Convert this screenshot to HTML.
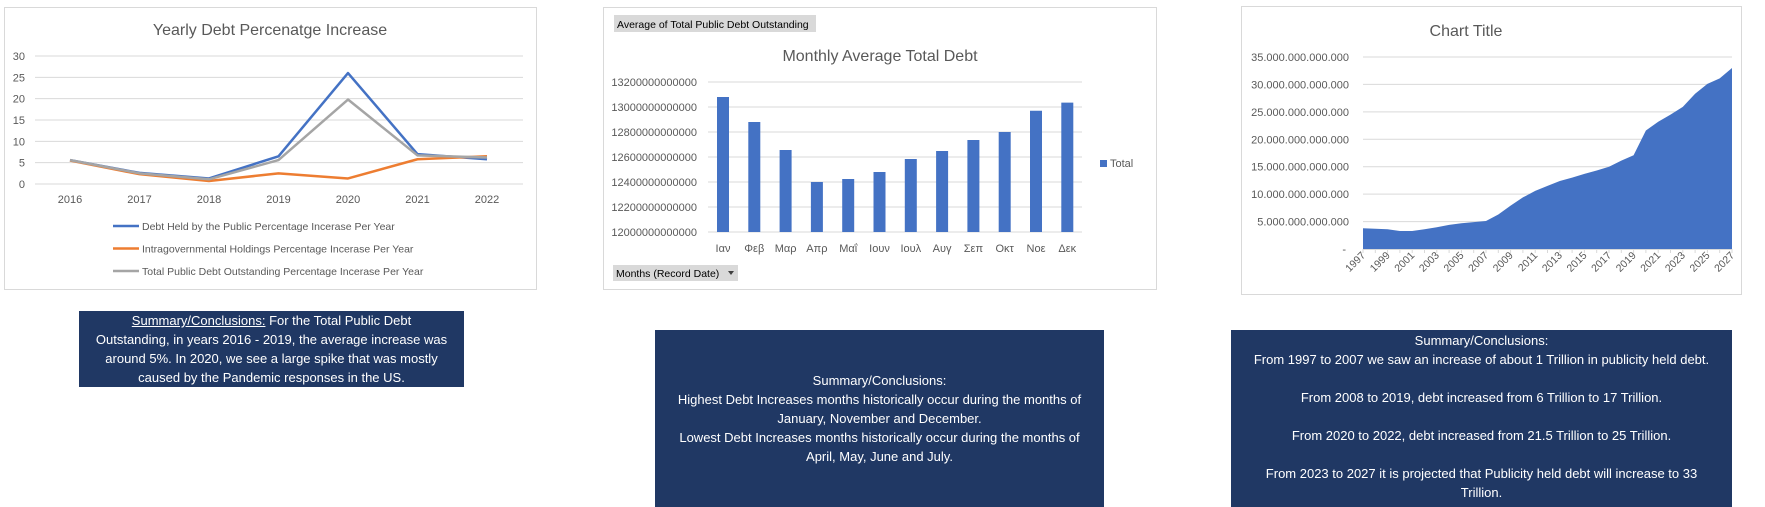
<!DOCTYPE html>
<html><head><meta charset="utf-8"><style>
body{margin:0;background:#fff;width:1765px;height:507px;overflow:hidden;font-family:"Liberation Sans","DejaVu Sans",sans-serif}
.box{position:absolute;background:#203864;color:#fff;text-align:center;font-size:13px;line-height:19px;display:flex;flex-direction:column;justify-content:center}
svg{position:absolute;left:0;top:0}
</style></head><body>
<svg id="s" width="1765" height="507">
<rect x="4.5" y="7.5" width="532" height="282" fill="#fff" stroke="#d9d9d9"/>
<rect x="603.5" y="7.5" width="553" height="282" fill="#fff" stroke="#d9d9d9"/>
<rect x="1241.5" y="6.5" width="500" height="288" fill="#fff" stroke="#d9d9d9"/>
<text x="270" y="35" text-anchor="middle" font-size="16" fill="#595959">Yearly Debt Percenatge Increase</text>
<text x="880" y="61" text-anchor="middle" font-size="16" fill="#595959">Monthly Average Total Debt</text>
<text x="1466" y="36" text-anchor="middle" font-size="16" fill="#595959">Chart Title</text>
<rect x="614" y="15" width="202" height="17" fill="#d9d9d9"/>
<text x="617" y="28" font-size="10.5" fill="#000">Average of Total Public Debt Outstanding</text>
<rect x="613" y="265" width="125" height="16" fill="#d9d9d9"/>
<text x="616" y="277" font-size="10.5" fill="#000">Months (Record Date)</text>
<path d="M728 271l6 0-3 4z" fill="#404040"/>
<rect x="1100" y="160" width="7" height="7" fill="#4472c4"/>
<text x="1110" y="167" font-size="11" fill="#595959">Total</text>
<g id="g1"></g><g id="g2"></g><g id="g3"></g>
</svg>
<div class="box" style="left:79px;top:311px;width:385px;height:76px"><div><u>Summary/Conclusions:</u> For the Total Public Debt<br>Outstanding, in years 2016 - 2019, the average increase was<br>around 5%. In 2020, we see a large spike that was mostly<br>caused by the Pandemic responses in the US.</div></div>
<div class="box" style="left:655px;top:330px;width:449px;height:177px"><div>Summary/Conclusions:<br>Highest Debt Increases months historically occur during the months of<br>January, November and December.<br>Lowest Debt Increases months historically occur during the months of<br>April, May, June and July.</div></div>
<div class="box" style="left:1231px;top:330px;width:501px;height:177px;justify-content:flex-start"><div style="margin-top:1px">Summary/Conclusions:<br>From 1997 to 2007 we saw an increase of about 1 Trillion in publicity held debt.<br><br>From 2008 to 2019, debt increased from 6 Trillion to 17 Trillion.<br><br>From 2020 to 2022, debt increased from 21.5 Trillion to 25 Trillion.<br><br>From 2023 to 2027 it is projected that Publicity held debt will increase to 33<br>Trillion.</div></div>
<script>
const years1=['2016','2017','2018','2019','2020','2021','2022'];
const debtPublic=[5.6,2.6,1.3,6.5,26,7,5.8];
const intragov=[5.5,2.3,0.7,2.5,1.3,5.8,6.5];
const totalPublic=[5.6,2.5,1.1,5.6,19.8,6.7,6.2];
const ticks1=[0,5,10,15,20,25,30];
const months=['Ιαν','Φεβ','Μαρ','Απρ','Μαΐ','Ιουν','Ιουλ','Αυγ','Σεπ','Οκτ','Νοε','Δεκ'];
const monthAvg=[13.08e12,12.88e12,12.656e12,12.40e12,12.424e12,12.48e12,12.584e12,12.648e12,12.736e12,12.80e12,12.97e12,13.035e12];
const ticks2=[12.0e12,12.2e12,12.4e12,12.6e12,12.8e12,13.0e12,13.2e12];
const years3=[];for(let y=1997;y<=2027;y++)years3.push(String(y));
const heldDebt=[3.78,3.7,3.6,3.28,3.28,3.6,3.97,4.4,4.7,4.9,5.1,6.3,7.9,9.4,10.6,11.5,12.4,13.0,13.7,14.3,15.0,16.1,17.1,21.6,23.2,24.5,25.9,28.3,30.1,31.1,33.0].map(v=>v*1e12);
const ticks3=[0,5e12,10e12,15e12,20e12,25e12,30e12,35e12];
const NS='http://www.w3.org/2000/svg';
function mk(p,t,a){const e=document.createElementNS(NS,t);for(const k in a)e.setAttribute(k,a[k]);p.appendChild(e);return e;}
// chart 1
const g1=document.getElementById('g1');
const x1=i=>70+i*69.5, y1=v=>184-v/30*128;
ticks1.forEach(t=>{const l=mk(g1,'line',{x1:35,x2:523,y1:y1(t),y2:y1(t),stroke:'#d9d9d9'});

const tx=mk(g1,'text',{x:25,y:y1(t)+4,'text-anchor':'end','font-size':11,fill:'#595959'});tx.textContent=t;
});
years1.forEach((y,i)=>{const tx=mk(g1,'text',{x:x1(i),y:203,'text-anchor':'middle','font-size':11,fill:'#595959'});tx.textContent=y;
});
const ser=[[totalPublic,'#a5a5a5','series-total-public'],[intragov,'#ed7d31','series-intragov'],[debtPublic,'#4472c4','series-debt-public']];
[[debtPublic,'#4472c4','series-debt-public'],[intragov,'#ed7d31','series-intragov'],[totalPublic,'#a5a5a5','series-total-public']].forEach(s=>{
const p=mk(g1,'polyline',{points:s[0].map((v,i)=>x1(i)+','+y1(v)).join(' '),fill:'none',stroke:s[1],'stroke-width':2.5,'stroke-linejoin':'round'});
});
const leg=['Debt Held by the Public Percentage Incerase Per Year','Intragovernmental Holdings Percentage Incerase Per Year','Total Public Debt Outstanding Percentage Incerase Per Year'];
const legc=['#4472c4','#ed7d31','#a5a5a5'];
leg.forEach((t,i)=>{const yy=226+i*22.5;const l=mk(g1,'line',{x1:113,x2:139,y1:yy,y2:yy,stroke:legc[i],'stroke-width':2.5});

const tx=mk(g1,'text',{x:142,y:yy+4,'font-size':10.5,fill:'#595959'});tx.textContent=t;
});
// chart 2
const g2=document.getElementById('g2');
const x2=i=>723+i*31.3, y2=v=>232-(v-12.0e12)/0.2e12*25;
ticks2.forEach(t=>{const l=mk(g2,'line',{x1:708,x2:1082,y1:y2(t),y2:y2(t),stroke:'#d9d9d9'});

const tx=mk(g2,'text',{x:697,y:y2(t)+4,'text-anchor':'end','font-size':11,fill:'#595959'});tx.textContent=String(Math.round(t));
});
monthAvg.forEach((v,i)=>{const r=mk(g2,'rect',{x:x2(i)-6,y:y2(v),width:12,height:232-y2(v),fill:'#4472c4'});
});
months.forEach((m,i)=>{const tx=mk(g2,'text',{x:x2(i),y:252,'text-anchor':'middle','font-size':11,fill:'#595959'});tx.textContent=m;
});
// chart 3
const g3=document.getElementById('g3');
const x3=i=>1363+i*12.3, y3=v=>249-v/35e12*192;
const fmt=v=>v===0?'-':Math.round(v).toString().replace(/\B(?=(\d{3})+(?!\d))/g,'.');
ticks3.forEach(t=>{if(t>0){const l=mk(g3,'line',{x1:1363,x2:1732,y1:y3(t),y2:y3(t),stroke:'#d9d9d9'});
}
const tx=mk(g3,'text',{x:t===0?1346:1349,y:y3(t)+4,'text-anchor':'end','font-size':11,fill:'#595959'});tx.textContent=fmt(t);
});
let d='M'+x3(0)+','+y3(0);heldDebt.forEach((v,i)=>{d+=' L'+x3(i)+','+y3(v);});d+=' L'+x3(heldDebt.length-1)+','+y3(0)+'Z';
const ar=mk(g3,'path',{d:d,fill:'#4472c4'});

const ax=mk(g3,'line',{x1:1363,x2:1732,y1:249.5,y2:249.5,stroke:'#d9d9d9'});

years3.forEach((y,i)=>{const tk=mk(g3,'line',{x1:x3(i),x2:x3(i),y1:249,y2:253,stroke:'#d9d9d9'});

if(i%2===0){const tx=mk(g3,'text',{x:x3(i)+3,y:256,'text-anchor':'end','font-size':10.5,fill:'#595959',transform:'rotate(-45 '+(x3(i)+3)+' 256)'});tx.textContent=y;
}});
</script>
</body></html>
